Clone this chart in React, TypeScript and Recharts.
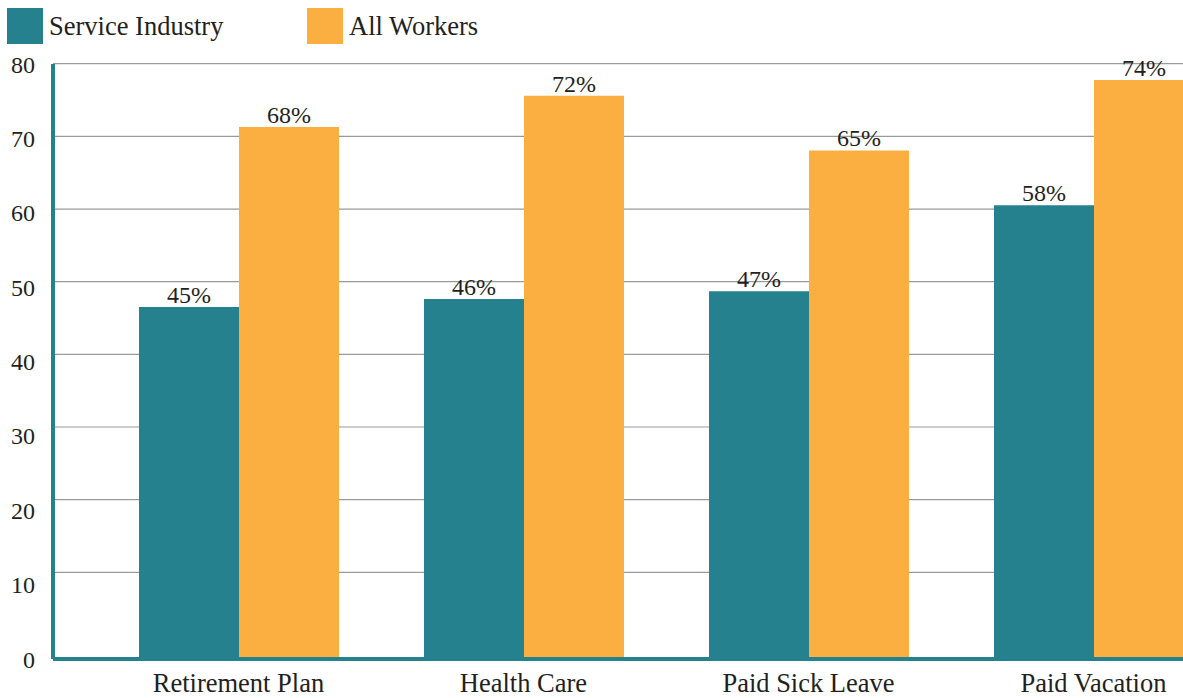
import React from "react";
import { BarChart, Bar, XAxis, YAxis, CartesianGrid, LabelList } from "recharts";

const categories = ["Retirement Plan", "Health Care", "Paid Sick Leave", "Paid Vacation"];
const serviceIndustry = [45, 46, 47, 58];
const allWorkers = [68, 72, 65, 74];
const yTicks = [0, 10, 20, 30, 40, 50, 60, 70, 80];
const gridTicks = [10, 20, 30, 40, 50, 60, 70, 80];
const seriesNames = ["Service Industry", "All Workers"];

const TEAL = "#26818f";
const ORANGE = "#fbaf41";
const TEXT = "#231f20";
const FONT = "'Liberation Serif', 'Times New Roman', serif";

// the source drawing stretches its bars ~5% past the printed axis,
// and sets its grid lines a bit lower/tighter than the tick labels
const BAR_STRETCH = 1.052;
const gridValue = (t: number) => t * 0.977 + 1.88;

const data = categories.map((name, i) => ({
  name,
  service: serviceIndustry[i],
  all: allWorkers[i],
}));

function Legend() {
  const colors = [TEAL, ORANGE];
  const lefts = [7, 307];
  return (
    <>
      {seriesNames.map((s, i) => (
        <div
          key={s}
          style={{
            position: "absolute",
            left: lefts[i],
            top: 8,
            display: "flex",
            alignItems: "center",
            fontFamily: FONT,
            fontSize: 26.5,
            color: TEXT,
          }}
        >
          <div style={{ width: 36, height: 36, background: colors[i], marginRight: 6 }} />
          <span>{s}</span>
        </div>
      ))}
    </>
  );
}

// percent label sitting just above each bar
const renderPct = (props: any) => {
  const { x, y, width, value } = props;
  return (
    <text
      x={Number(x) + Number(width) / 2}
      y={Number(y) - 4}
      textAnchor="middle"
      fill={TEXT}
      fontSize={24}
      fontFamily={FONT}
    >
      {`${value}%`}
    </text>
  );
};

export default function App() {
  return (
    <div
      style={{
        position: "fixed",
        left: 0,
        top: 0,
        width: 1183,
        height: 698,
        overflow: "hidden",
        background: "#fff",
      }}
    >
      <Legend />
      <BarChart
        width={1236}
        height={698}
        data={data}
        margin={{ top: 64, right: 0, left: 0, bottom: 0 }}
        barCategoryGap={43}
        barGap={0}
        style={{ fontFamily: FONT }}
      >
        <CartesianGrid
          vertical={false}
          stroke="#9a9a9a"
          strokeWidth={1.2}
          horizontalCoordinatesGenerator={({ yAxis, offset }: any) =>
            gridTicks.map((t) =>
              yAxis && typeof yAxis.scale === "function"
                ? yAxis.scale(gridValue(t))
                : offset.top + offset.height * (1 - gridValue(t) / 80)
            )
          }
        />
        <XAxis
          dataKey="name"
          height={39}
          padding={{ left: 43, right: 0 }}
          axisLine={{ stroke: TEAL, strokeWidth: 4 }}
          tickLine={false}
          tickSize={0}
          tickMargin={14}
          tick={{ fill: TEXT, fontSize: 26.5, fontFamily: FONT }}
          interval={0}
        />
        <YAxis
          width={53}
          domain={[0, 80]}
          ticks={yTicks}
          allowDataOverflow
          axisLine={{ stroke: TEAL, strokeWidth: 4 }}
          tickLine={false}
          tickSize={0}
          tickMargin={18}
          tick={{ fill: TEXT, fontSize: 24, fontFamily: FONT }}
        />
        <Bar
          dataKey={(d: any) => d.service * BAR_STRETCH}
          name={seriesNames[0]}
          fill={TEAL}
          isAnimationActive={false}
        >
          <LabelList dataKey="service" content={renderPct} />
        </Bar>
        <Bar
          dataKey={(d: any) => d.all * BAR_STRETCH}
          name={seriesNames[1]}
          fill={ORANGE}
          isAnimationActive={false}
        >
          <LabelList dataKey="all" content={renderPct} />
        </Bar>
      </BarChart>
    </div>
  );
}
